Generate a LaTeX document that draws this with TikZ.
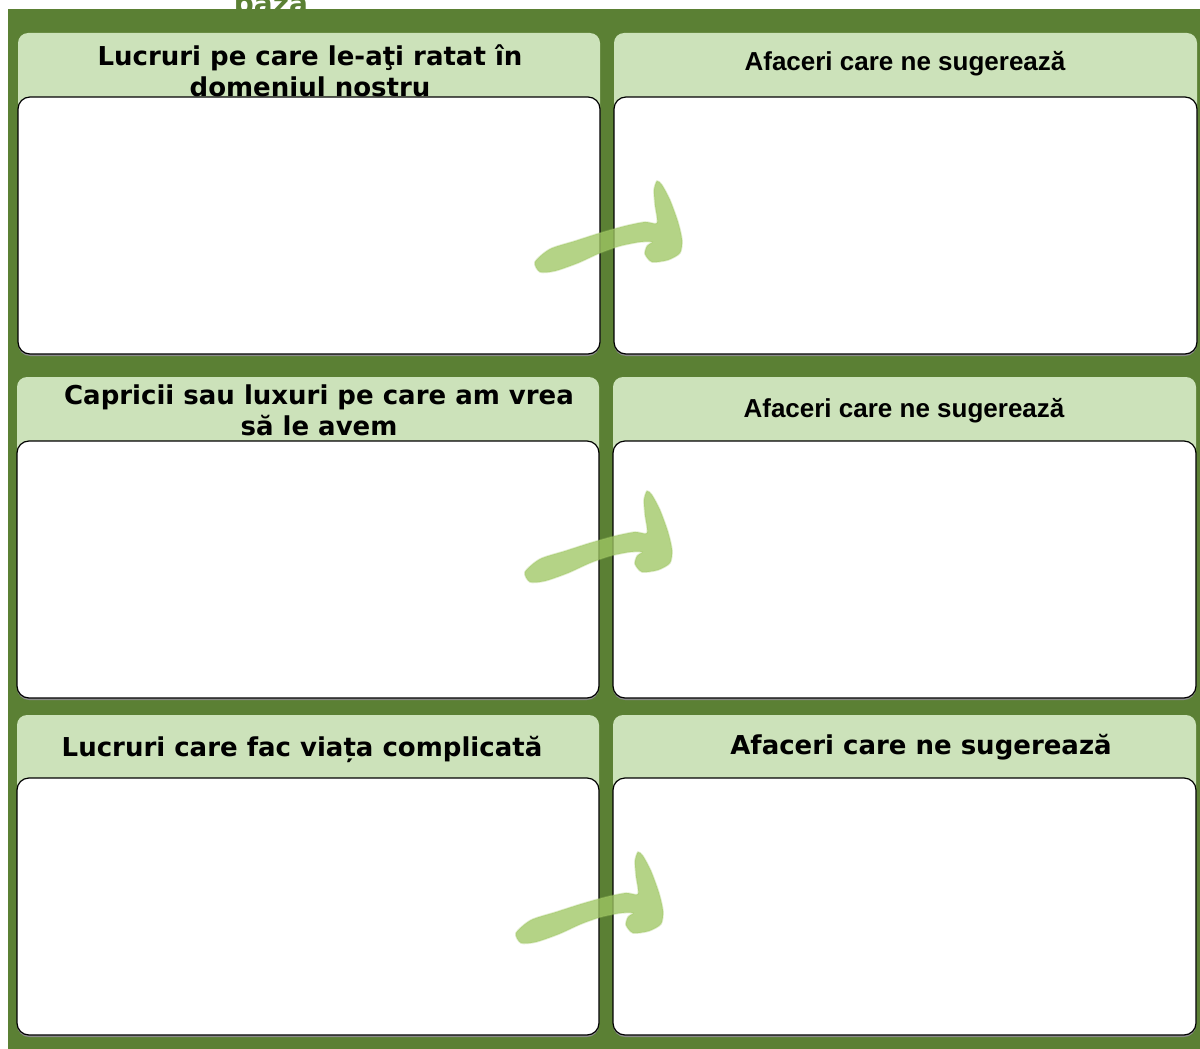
\documentclass[tikz,border=0pt]{standalone}
\usepackage{fontspec}
\newfontfamily\verdanabold{DejaVu Sans}
\newfontfamily\arialbold{Liberation Sans}
\definecolor{boardgreen}{HTML}{5B8034}
\definecolor{headgreen}{HTML}{CCE2BA}
\definecolor{brushgreen}{RGB}{160,199,100}
\begin{document}
\begin{tikzpicture}[x=0.75pt,y=-0.75pt,
  header/.style={fill=headgreen, rounded corners=7.5pt},
  panel/.style={draw=black, line width=0.9pt, fill=white, rounded corners=9pt},
  shade/.style={fill=black!45, rounded corners=9pt},
  lefttitle/.style={font=\verdanabold\bfseries\fontsize{19.5}{23.25}\selectfont, align=center, anchor=base, inner sep=0pt},
  righttitle/.style={font=\arialbold\bfseries\fontsize{19.5}{23.25}\selectfont, anchor=base, inner sep=0pt},
  brush/.style={fill=brushgreen, fill opacity=0.78, draw=brushgreen, draw opacity=0.3, line width=1.2pt}]
\useasboundingbox (0,0) rectangle (1200,1049);
\clip (0,0) rectangle (1200,1049);

% title peeking above the board
\node[font=\verdanabold\bfseries\fontsize{21}{25}\selectfont, text=boardgreen, anchor=base, inner sep=0pt] (baza) at (271,14) {baza};

% board
\fill[boardgreen] (8,9) rectangle (1200,1049);

% ---- row 1 ----
\fill[header] (18,33) rectangle (600,120);
\fill[header] (614,33) rectangle (1197,120);
\node[lefttitle] (t11) at (310,97) {Lucruri pe care le-aţi ratat în\\domeniul nostru};
\node[righttitle] (t12) at (905,70) {Afaceri care ne sugerează};
\fill[shade] (18,99) rectangle (600,356);
\fill[shade] (614,99) rectangle (1197,356);
\draw[panel] (18,97) rectangle (600,354) node[pos=0.5] (p11) {};
\draw[panel] (614,97) rectangle (1197,354) node[pos=0.5] (p12) {};

% ---- row 2 ----
\fill[header] (17,377) rectangle (599,460);
\fill[header] (613,377) rectangle (1196,460);
\node[lefttitle] (t21) at (319,435) {Capricii sau luxuri pe care am vrea\\să le avem};
\node[righttitle] (t22) at (904,417) {Afaceri care ne sugerează};
\fill[shade] (17,443) rectangle (599,700);
\fill[shade] (613,443) rectangle (1196,700);
\draw[panel] (17,441) rectangle (599,698) node[pos=0.5] (p21) {};
\draw[panel] (613,441) rectangle (1196,698) node[pos=0.5] (p22) {};

% ---- row 3 ----
\fill[header] (17,715) rectangle (599,800);
\fill[header] (613,715) rectangle (1196,800);
\node[lefttitle] (t31) at (302,756) {Lucruri care fac viața complicată};
\node[lefttitle] (t32) at (921,754) {Afaceri care ne sugerează};
\fill[shade] (17,780) rectangle (599,1037);
\fill[shade] (613,780) rectangle (1196,1037);
\draw[panel] (17,778) rectangle (599,1035) node[pos=0.5] (p31) {};
\draw[panel] (613,778) rectangle (1196,1035) node[pos=0.5] (p32) {};

% brush-stroke arrows from each left panel to its right panel
\coordinate (a1) at (537,262);
\coordinate (a2) at (527,572);
\coordinate (a3) at (518,933);
\foreach \s in {a1,a2,a3}{
  \path[brush, shift={(\s)}] plot[smooth cycle, tension=0.45] coordinates {
    (-2,0) (13,-13) (38,-21) (63,-29) (88,-36) (108,-40) (120,-39)
    (118,-57) (117,-72) (120,-81) (125,-77)
    (133,-62) (141,-40) (145,-22) (143,-9)
    (131,-2) (115,0) (108,-8)
    (110,-16) (115,-20)
    (103,-20) (83,-16) (63,-9) (41,1) (18,9) (3,10)};
}
\end{tikzpicture}
\end{document}
